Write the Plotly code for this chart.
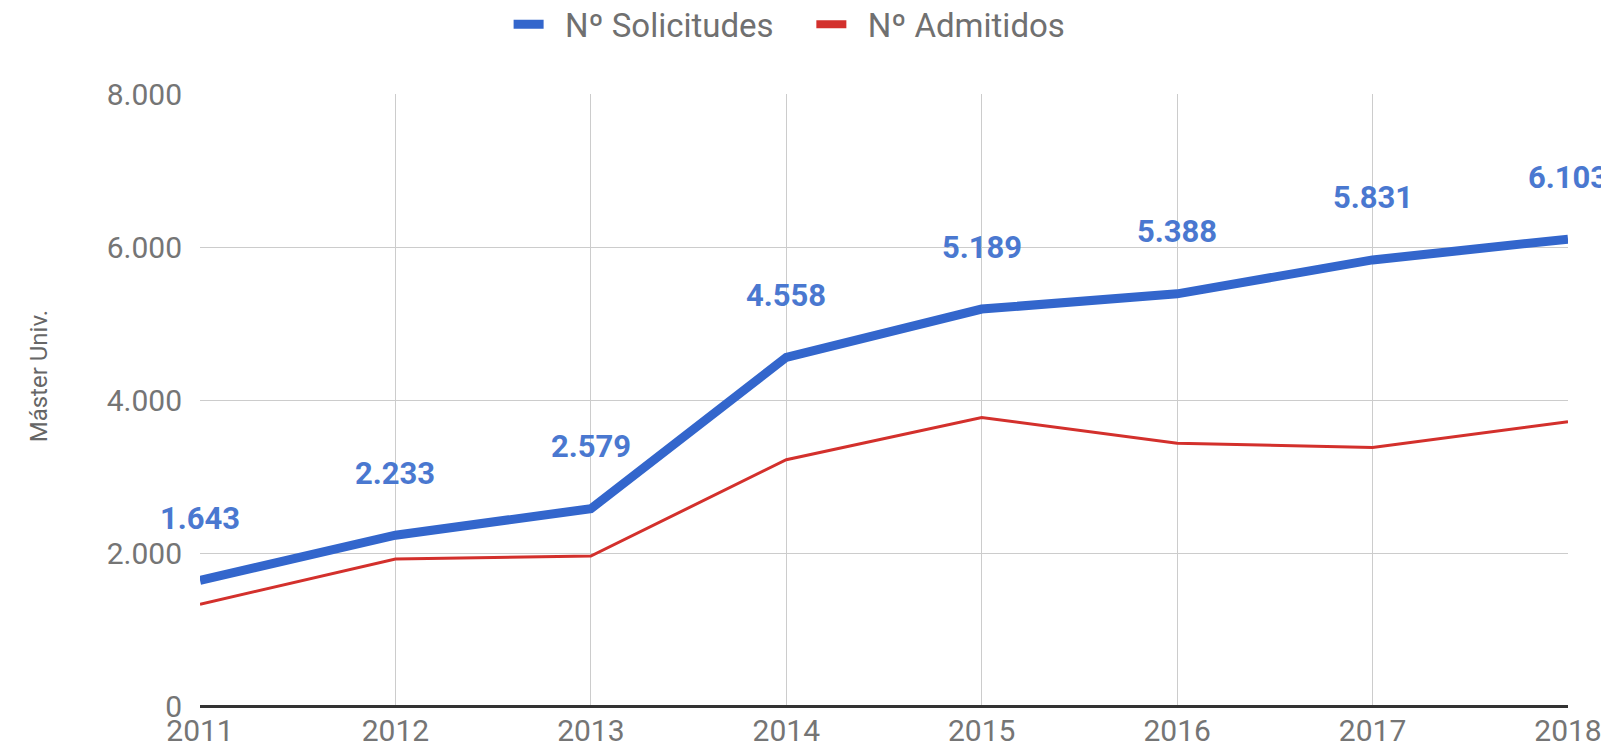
import plotly.graph_objects as go

# data
years = [2011, 2012, 2013, 2014, 2015, 2016, 2017, 2018]
solicitudes = [1643, 2233, 2579, 4558, 5189, 5388, 5831, 6103]
admitidos = [1330, 1920, 1960, 3220, 3770, 3435, 3380, 3715]
y_ticks = [0, 2000, 4000, 6000, 8000]

def fmt(v):
    # Spanish thousands separator
    return f"{v:,}".replace(",", ".")

NB = '\u00a0'

fig = go.Figure()

fig.add_trace(go.Scatter(
    x=years, y=solicitudes, mode='lines', name=NB * 2 + 'Nº Solicitudes' + NB * 4,
    line=dict(color='#3366cc', width=9),
))
fig.add_trace(go.Scatter(
    x=years, y=admitidos, mode='lines', name='Nº Admitidos',
    line=dict(color='#d3302c', width=3), showlegend=False, legendgroup='adm',
))
# legend entry only, so the red key gets the same thick swatch as the blue one
fig.add_trace(go.Scatter(
    x=[None], y=[None], mode='lines', name=NB * 2 + 'Nº Admitidos',
    line=dict(color='#d3302c', width=8), legendgroup='adm',
))

# value labels above the blue line
for x, y in zip(years, solicitudes):
    fig.add_annotation(
        x=x, y=y, text=f"<b>{fmt(y)}</b>", showarrow=False,
        yshift=62, font=dict(family='Roboto', size=31, color='#4a78d0'),
    )

# y axis title placed as an annotation
fig.add_annotation(
    x=-0.118, y=0.538, xref='paper', yref='paper', text='Máster Univ.',
    xanchor='center', yanchor='middle', textangle=-90, showarrow=False,
    font=dict(family='Roboto', size=24, color='#666666'),
)

fig.update_layout(
    width=1593, height=738,
    margin=dict(l=192, r=33, t=86, b=40, autoexpand=False),
    plot_bgcolor='white', paper_bgcolor='white',
    font=dict(family='Roboto', size=30, color='#757575'),
    showlegend=True,
    legend=dict(
        orientation='h', x=0.431, xanchor='center', y=1.114, yanchor='middle',
        font=dict(size=33, color='#707070'), itemwidth=30,
    ),
    xaxis=dict(
        range=[2011, 2018], tickvals=years, ticktext=[str(y) for y in years],
        showgrid=True, gridcolor='#cccccc', gridwidth=1,
        zeroline=False, showline=False, ticks='', ticklabelstandoff=4,
        ticklabeloverflow='allow',
    ),
    yaxis=dict(
        range=[0, 8000], tickvals=y_ticks, ticktext=[fmt(v) for v in y_ticks],
        showgrid=True, gridcolor='#cccccc', gridwidth=1,
        zeroline=True, zerolinecolor='#333333', zerolinewidth=3,
        showline=False, ticks='', ticklabelstandoff=17,
    ),
)

fig.write_html("out.html")
